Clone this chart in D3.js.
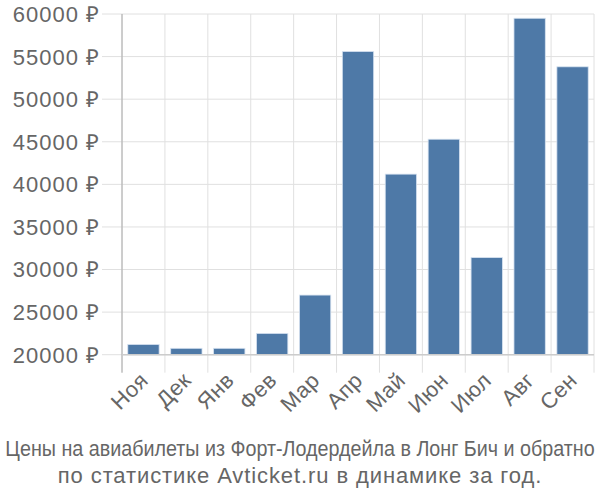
<!DOCTYPE html>
<html><head><meta charset="utf-8">
<script src="https://cdn.jsdelivr.net/npm/d3@7"></script>
<style>body{margin:0;background:#fff}svg{display:block}</style>
</head><body><svg id="c" width="600" height="500"></svg>
<script>
const categories = ["Ноя","Дек","Янв","Фев","Мар","Апр","Май","Июн","Июл","Авг","Сен"];
const values = [21200,20750,20750,22500,27000,55600,41200,45300,31400,59500,53800];
const yTicks = [20000,25000,30000,35000,40000,45000,50000,55000,60000];
const titleLines = ["Цены на авиабилеты из Форт-Лодердейла в Лонг Бич и обратно","по статистике Avticket.ru в динамике за год."];

(function(){
const svg = d3.select("#c");
const L = 122, R = 594, T = 14, B = 354.7;
const x = d3.scaleBand().domain(categories).range([L, R]).paddingInner(0.27).paddingOuter(0.135);
const xl = d3.scalePoint().domain(d3.range(categories.length+1)).range([L, R]);
const y = d3.scaleLinear().domain([20000, 60000]).range([B, T]);
const font = "'Liberation Sans', Arial, sans-serif";
const grey = "#666";

svg.append("g").selectAll("line").data(yTicks).join("line")
  .attr("x1", L-20).attr("x2", R).attr("y1", d=>y(d)).attr("y2", d=>y(d))
  .attr("stroke", "#e0e0e0").attr("stroke-width", 1);
svg.append("g").selectAll("line").data(d3.range(categories.length+1)).join("line")
  .attr("x1", d=>xl(d)).attr("x2", d=>xl(d)).attr("y1", T).attr("y2", B+18)
  .attr("stroke", "#e0e0e0").attr("stroke-width", 1);

svg.append("g").selectAll("rect").data(values).join("rect")
  .attr("x", (d,i)=>x(categories[i])).attr("width", x.bandwidth())
  .attr("y", d=>y(d)).attr("height", d=>B-y(d))
  .attr("fill", "#4e79a7").attr("stroke", "#d6e2f0").attr("stroke-width", 0.8);

svg.append("line").attr("x1", L).attr("x2", L).attr("y1", T).attr("y2", B+18).attr("stroke", "#aaa").attr("stroke-width", 1);
svg.append("line").attr("x1", L).attr("x2", R).attr("y1", B).attr("y2", B).attr("stroke", "#ccc").attr("stroke-width", 1.5);

svg.append("g").selectAll("text").data(yTicks).join("text")
  .attr("x", 100).attr("y", d=>y(d)).attr("dy", "0.36em").attr("text-anchor", "end")
  .attr("font-family", font).attr("font-size", 22).attr("letter-spacing", 1).attr("fill", grey)
  .text(d=>d + " ₽");

svg.append("g").selectAll("text").data(categories).join("text")
  .attr("transform", d=>`translate(${x(d)+x.bandwidth()/2+6},${B+27}) rotate(-45)`)
  .attr("text-anchor", "end")
  .attr("font-family", font).attr("font-size", 22).attr("letter-spacing", 0.5).attr("fill", grey)
  .text(d=>d);

const t1 = svg.append("text")
  .attr("text-anchor", "middle")
  .attr("font-family", font).attr("font-size", 22).attr("fill", grey)
  .text(titleLines[0]);
const w1 = t1.node().getComputedTextLength();
t1.attr("transform", `translate(300,456) scale(${Math.min(1, 590 / w1)},1)`);

svg.append("text")
  .attr("x", 300).attr("y", 483).attr("text-anchor", "middle")
  .attr("font-family", font).attr("font-size", 22).attr("letter-spacing", 0.9).attr("fill", grey)
  .text(titleLines[1]);
})();
</script></body></html>
